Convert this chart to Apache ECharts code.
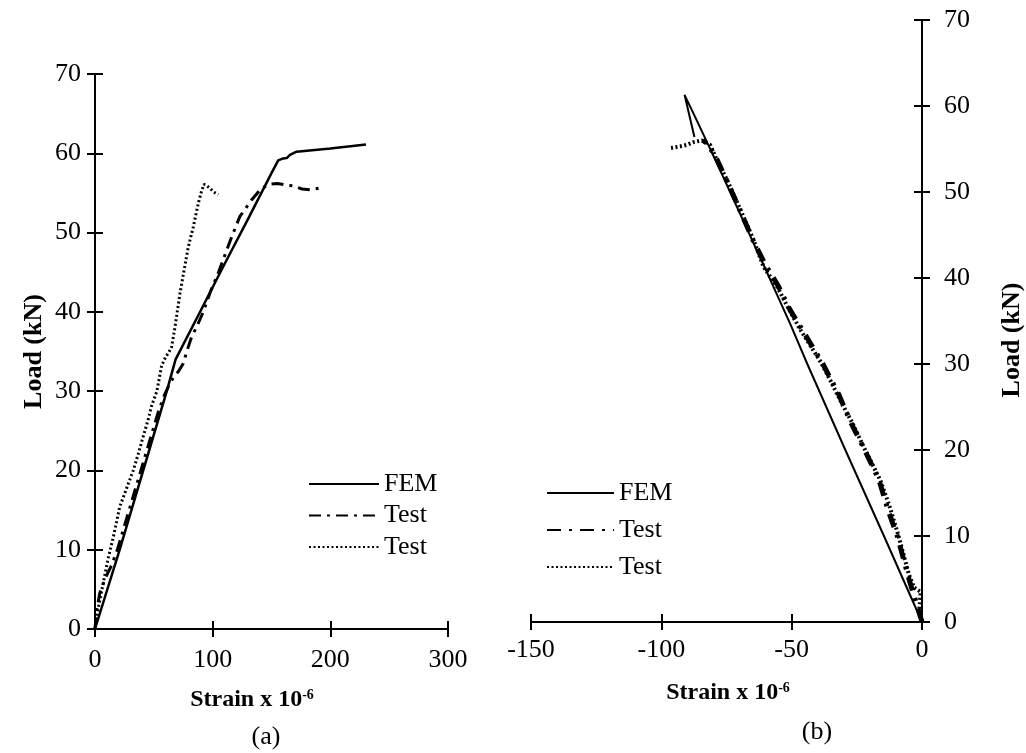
<!DOCTYPE html>
<html><head><meta charset="utf-8">
<script src="https://cdn.jsdelivr.net/npm/echarts@6/dist/echarts.min.js"></script>
<style>html,body{margin:0;padding:0;background:#fff}#c{width:1026px;height:753px}</style>
</head><body><div id="c"></div>
<script>
// ---------- data: chart (a) ----------
const ticksA_x = [0, 100, 200, 300];
const ticksLoad = [0, 10, 20, 30, 40, 50, 60, 70];
const femA_strain = [0, 21, 41, 61, 68.5, 90, 110, 130, 150, 155.7, 160, 162.9, 165.7, 171.3, 200, 230.3];
const femA_load   = [0, 10, 20, 30, 34, 40.2, 46, 51.7, 57.5, 59.1, 59.35, 59.4, 59.8, 60.2, 60.6, 61.1];
const t1A_strain = [0, 1, 4, 9, 14, 19, 24, 29, 34, 39, 44, 49, 54, 59, 63, 67, 71, 75, 78, 82, 87, 92, 98, 105, 110, 115, 123, 133, 141.6, 148.7, 155, 162, 168, 176, 183, 190];
const t1A_load   = [0, 2, 4.5, 6.5, 8, 10, 12.5, 15, 17.5, 20, 22.5, 25, 27.5, 29.5, 30.8, 31.8, 32.5, 33.5, 35, 36.8, 38.3, 40, 42.5, 45, 47, 49, 52, 54.1, 55.6, 56.1, 56.2, 56, 55.9, 55.5, 55.4, 55.6];
const t2A_strain = [0, 3, 7, 11, 15.6, 21, 27, 32.5, 37, 41, 45, 48, 52.6, 56.6, 60, 62.3, 65, 68, 72.2, 76, 79.3, 83.5, 87.8, 90.5, 92.6, 95, 97.7, 101, 104.8];
const t2A_load   = [0, 2.8, 5.8, 8.8, 11.6, 15.4, 17.8, 20, 22.2, 24.3, 26.3, 28.1, 30, 33.2, 34.3, 34.8, 35.5, 38.1, 42.3, 45.5, 48.2, 50.7, 53.7, 55.2, 56.1, 55.9, 55.6, 55.1, 54.8];
// ---------- data: chart (b) ----------
const ticksB_x = [-150, -100, -50, 0];
const femB_strain = [0, -14.6, -29.4, -44, -50.3, -60, -70, -78, -82.8, -87, -91.1, -87.3];
const femB_load   = [0, 10, 20, 30, 34.5, 41, 47.6, 52.9, 56, 58.7, 61.3, 56.4];
const t1B_strain = [0, -2, -5, -9.5, -13, -16.5, -22, -27, -32, -38, -43, -47, -51, -55, -60, -65, -70, -75, -79, -82, -84];
const t1B_load   = [0, 2, 5, 10, 13, 16.5, 20, 23, 26.5, 30, 32.5, 34.5, 36.5, 39, 41.5, 44.5, 48, 51.4, 54, 55.5, 56];
const t2B_strain = [0, -1, -0.5, -3, -5, -9, -12.5, -16, -21.8, -26.5, -31.4, -35, -38.4, -42.5, -46.7, -50.4, -55.6, -60.8, -64.6, -69.6, -74.8, -78.7, -81.3, -84.4, -87.6, -90, -92.8, -96.6];
const t2B_load   = [0, 1.5, 3.5, 4, 5.5, 10, 13.5, 16.5, 20, 23, 25.8, 28, 30, 32, 34, 36, 39, 41.3, 44.4, 47.9, 51.4, 53.7, 55.5, 56, 55.8, 55.5, 55.3, 55.1];
const legendLabels = { femA: 'FEM', t1A: 'Test', t2A: 'Test', femB: 'FEM', t1B: 'Test', t2B: 'Test' };

const FONT = 'Liberation Serif';
function pairs(xs, ys) { return xs.map((x, i) => [x, ys[i]]); }

const chart = echarts.init(document.getElementById('c'), null, { renderer: 'canvas' });

function mkX(grid, min, max, interval, inside, main) {
  return {
    type: 'value', gridIndex: grid, min: min, max: max, interval: interval, position: 'bottom',
    axisLine: { show: main, onZero: false, lineStyle: { color: '#000', width: 2 } },
    axisTick: { show: true, inside: inside, length: 8, lineStyle: { color: '#000', width: 2 } },
    axisLabel: { show: main, color: '#000', fontSize: 26, fontFamily: FONT, margin: grid === 0 ? 18 : 15 },
    splitLine: { show: false }
  };
}
function mkY(grid, pos, inside, main) {
  return {
    type: 'value', gridIndex: grid, min: 0, max: 70, interval: 10, position: pos,
    axisLine: { show: main, onZero: false, lineStyle: { color: '#000', width: 2 } },
    axisTick: { show: true, inside: inside, length: 8, lineStyle: { color: '#000', width: 2 } },
    axisLabel: { show: main, color: '#000', fontSize: 26, fontFamily: FONT, margin: pos === 'left' ? 14 : 22 },
    splitLine: { show: false }
  };
}

const yA = mkY(0, 'left', false, true);
yA.name = 'Load (kN)';
yA.nameLocation = 'middle';
yA.nameRotate = 90;
yA.nameGap = 48;
yA.nameTextStyle = { fontSize: 26, fontWeight: 'bold', fontFamily: FONT, color: '#000' };

const legendCommon = {
  orient: 'vertical', itemHeight: 14, selectedMode: false, padding: 0,
  formatter: n => legendLabels[n],
  itemStyle: { opacity: 0 },
  textStyle: { fontSize: 26, fontFamily: FONT, color: '#000', lineHeight: 26 }
};

const option = {
  animation: false,
  backgroundColor: '#fff',
  grid: [
    { left: 95, top: 74, width: 353, height: 555 },
    { left: 531, top: 20, width: 391, height: 602 }
  ],
  xAxis: [
    mkX(0, 0, 300, 100, false, true),
    mkX(0, 0, 300, 100, true, false),
    mkX(1, -150, 0, 50, false, true),
    mkX(1, -150, 0, 50, true, false)
  ],
  yAxis: [
    yA,
    mkY(0, 'left', true, false),
    mkY(1, 'right', false, true),
    mkY(1, 'right', true, false)
  ],
  legend: [
    Object.assign({}, legendCommon, { left: 308, top: 471, itemWidth: 70, itemGap: 5.5, data: ['femA', 't1A', 't2A'] }),
    Object.assign({}, legendCommon, { left: 546, top: 480, itemWidth: 67, itemGap: 11, data: ['femB', 't1B', 't2B'] })
  ],
  graphic: [
    { type: 'text', x: 252, y: 700, style: { text: '{b|Strain x 10}{s|-6}', align: 'center', verticalAlign: 'middle',
      rich: { b: { fontSize: 24, fontWeight: 'bold', fontFamily: FONT, fill: '#000' }, s: { fontSize: 14, fontWeight: 'bold', fontFamily: FONT, fill: '#000', verticalAlign: 'top' } } } },
    { type: 'text', x: 728, y: 693, style: { text: '{b|Strain x 10}{s|-6}', align: 'center', verticalAlign: 'middle',
      rich: { b: { fontSize: 24, fontWeight: 'bold', fontFamily: FONT, fill: '#000' }, s: { fontSize: 14, fontWeight: 'bold', fontFamily: FONT, fill: '#000', verticalAlign: 'top' } } } },
    { type: 'text', x: 266, y: 737, style: { text: '(a)', align: 'center', verticalAlign: 'middle', fontSize: 26, fontFamily: FONT, fill: '#000' } },
    { type: 'text', x: 817, y: 732, style: { text: '(b)', align: 'center', verticalAlign: 'middle', fontSize: 26, fontFamily: FONT, fill: '#000' } },
    { type: 'text', x: 1012, y: 340, rotation: Math.PI / 2, style: { text: 'Load (kN)', align: 'center', verticalAlign: 'middle', fontSize: 26, fontWeight: 'bold', fontFamily: FONT, fill: '#000' } }
  ],
  series: [
    { name: 'femA', type: 'line', xAxisIndex: 0, yAxisIndex: 0, data: pairs(femA_strain, femA_load), symbol: 'none', smooth: false,
      lineStyle: { color: '#000', width: 2.5 }, itemStyle: { color: '#000' }, silent: true, z: 5 },
    { name: 't1A', type: 'line', xAxisIndex: 0, yAxisIndex: 0, data: pairs(t1A_strain, t1A_load), symbol: 'none',
      lineStyle: { color: '#000', width: 3, type: [12, 6, 3, 6] }, itemStyle: { color: '#000' }, silent: true },
    { name: 't2A', type: 'line', xAxisIndex: 0, yAxisIndex: 0, data: pairs(t2A_strain, t2A_load), symbol: 'none',
      lineStyle: { color: '#000', width: 3, type: [2, 2.5] }, itemStyle: { color: '#000' }, silent: true },
    { name: 'femB', type: 'line', xAxisIndex: 2, yAxisIndex: 2, data: pairs(femB_strain, femB_load), symbol: 'none',
      lineStyle: { color: '#000', width: 2 }, itemStyle: { color: '#000' }, silent: true, z: 5 },
    { name: 't1B', type: 'line', xAxisIndex: 2, yAxisIndex: 2, data: pairs(t1B_strain, t1B_load), symbol: 'none',
      lineStyle: { color: '#000', width: 5, type: [14, 8, 3, 8] }, itemStyle: { color: '#000' }, silent: true },
    { name: 't2B', type: 'line', xAxisIndex: 2, yAxisIndex: 2, data: pairs(t2B_strain, t2B_load), symbol: 'none',
      lineStyle: { color: '#000', width: 4, type: [2, 2.5] }, itemStyle: { color: '#000' }, silent: true }
  ]
};
chart.setOption(option);
</script>
</body></html>
